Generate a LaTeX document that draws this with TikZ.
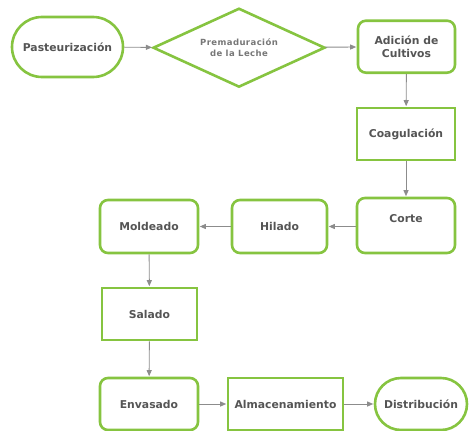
\documentclass[tikz,border=0pt]{standalone}
\usepackage{fontspec}
\setmainfont{DejaVu Sans}
\newfontfamily\spacedfont[LetterSpace=5]{DejaVu Sans Bold}
\usetikzlibrary{shapes.geometric,shapes.misc,arrows.meta}

\definecolor{stepgreen}{RGB}{134,196,64}
\definecolor{stepgray}{RGB}{85,85,85}
\definecolor{flowgray}{RGB}{140,140,140}

\tikzset{
  base/.style={draw=stepgreen, line width=2.6pt, fill=white, text=stepgray,
    font=\fontsize{10.8}{13}\selectfont\bfseries, align=center, inner sep=0pt},
  roundbox/.style={base, rectangle, rounded corners=8pt},
  squarebox/.style={base, rectangle},
  pillbox/.style={base, rounded rectangle},
  decisionbox/.style={base, diamond, aspect=2.2, text=stepgray!80,
    font=\fontsize{8.5}{10.7}\selectfont\spacedfont},
  flow/.style={draw=flowgray, line width=0.9pt,
    -{Triangle[length=6pt,width=5pt]}, shorten >=0.5pt},
}

\begin{document}
\begin{tikzpicture}[x=1pt, y=-1pt]
  \useasboundingbox (0,0) rectangle (469,431);

  % top row
  \node[pillbox, minimum width=111pt, minimum height=60pt] (past) at (67.5,47) {Pasteurización};
  \node[decisionbox, minimum width=172pt, minimum height=79pt] (prem) at (239,47.7) {Premaduración\\de la Leche};
  \node[roundbox, minimum width=97pt, minimum height=52pt] (adic) at (406.5,46.7) {Adición de\\Cultivos};

  % right column
  \node[squarebox, minimum width=98pt, minimum height=52pt] (coag) at (406,134) {Coagulación};
  \node[roundbox, minimum width=98pt, minimum height=55pt] (corte) at (406,225.5) {};
  \node[text=stepgray, font=\fontsize{10.8}{13}\selectfont\bfseries, inner sep=0pt] (corteT) at (406,219) {Corte};

  % middle row
  \node[roundbox, minimum width=95pt, minimum height=53pt] (hil) at (279.5,226.5) {Hilado};
  \node[roundbox, minimum width=98pt, minimum height=53pt] (mold) at (149,226.5) {Moldeado};

  % left column
  \node[squarebox, minimum width=95pt, minimum height=52pt] (sal) at (149.5,314) {Salado};

  % bottom row
  \node[roundbox, minimum width=98pt, minimum height=52pt] (env) at (149,404) {Envasado};
  \node[squarebox, minimum width=115pt, minimum height=52pt] (alm) at (285.5,404) {Almacenamiento};
  \node[pillbox, minimum width=92pt, minimum height=52pt] (dist) at (421,404) {Distribución};

  % connectors
  \draw[flow] (past) -- (prem);
  \draw[flow] (prem) -- (adic);
  \draw[flow] (adic) -- (coag);
  \draw[flow] (coag) -- (corte);
  \draw[flow] (corte.west |- hil.east) -- (hil.east);
  \draw[flow] (hil) -- (mold);
  \draw[flow] (mold) -- (sal);
  \draw[flow] (sal) -- (env);
  \draw[flow] (env) -- (alm);
  \draw[flow] (alm) -- (dist);
\end{tikzpicture}
\end{document}
